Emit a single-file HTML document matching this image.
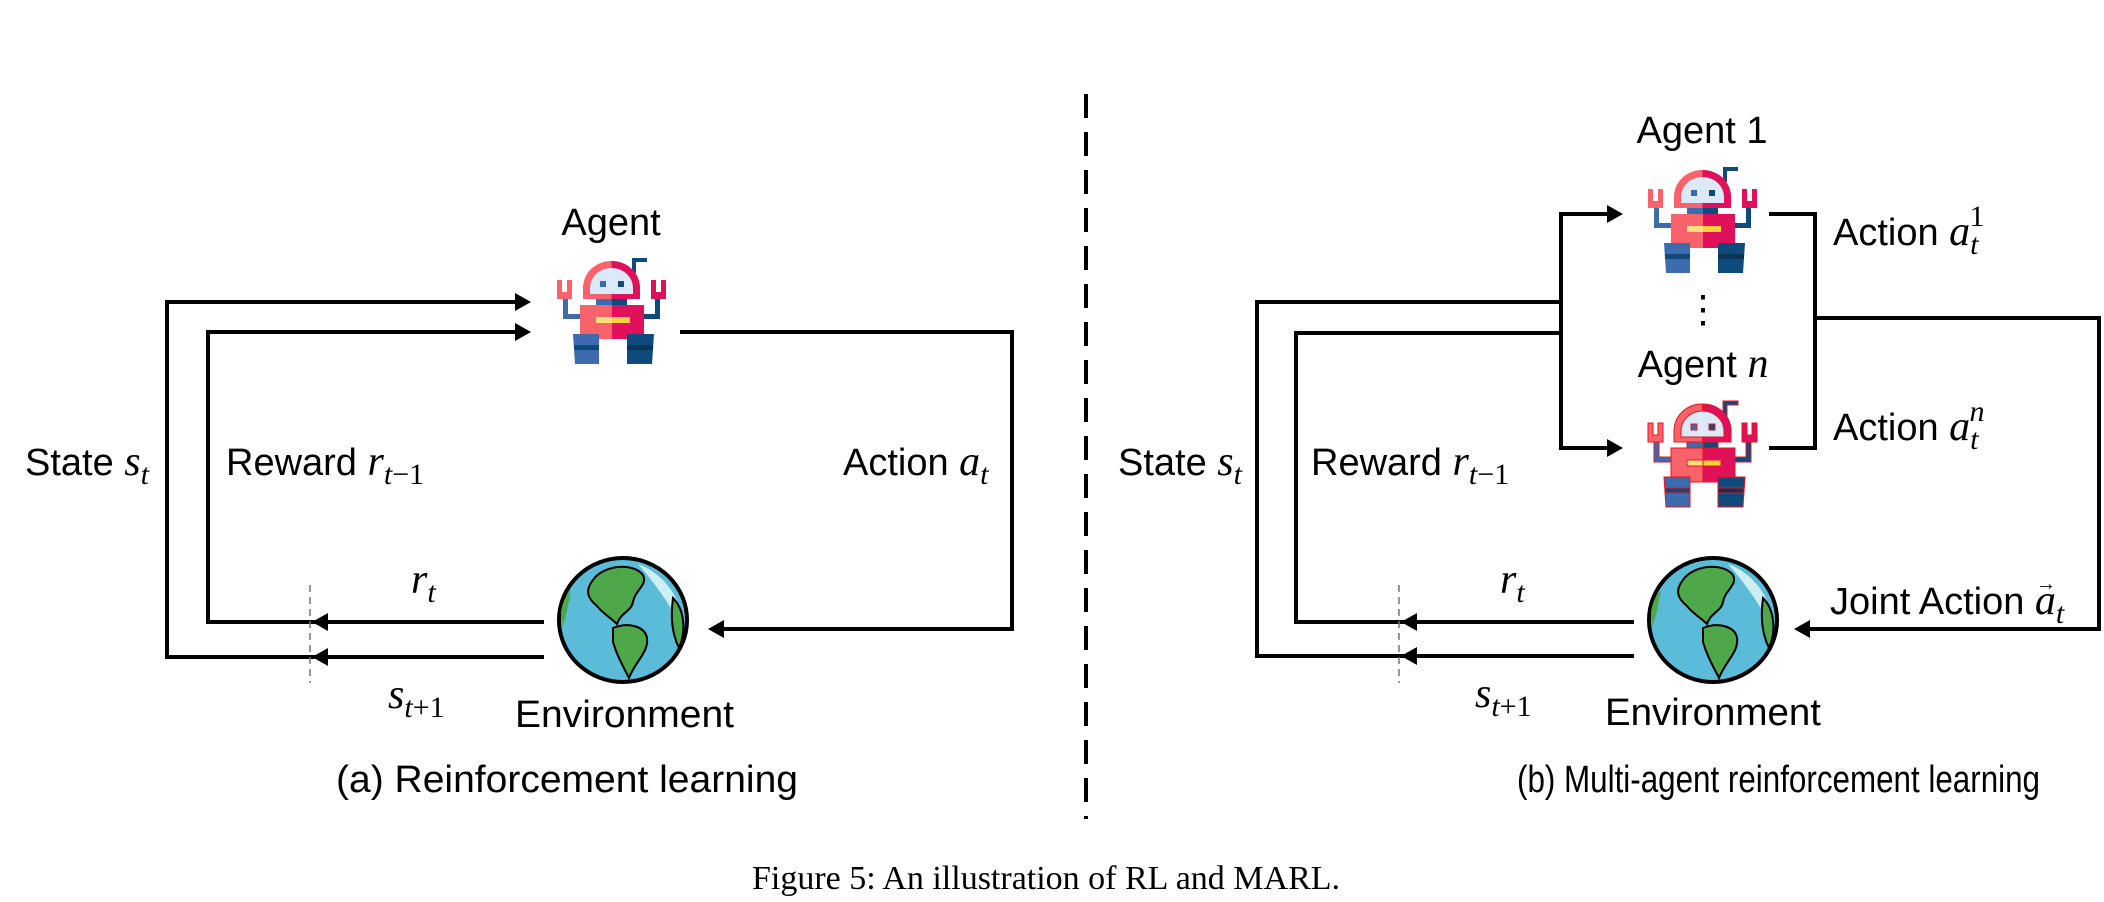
<!DOCTYPE html>
<html><head><meta charset="utf-8"><style>
html,body{margin:0;padding:0;background:#fff;}
svg{display:block;}
.s{font-family:"Liberation Sans",sans-serif;font-size:38px;fill:#000;}
.m{font-family:"Liberation Serif",serif;font-style:italic;font-size:42px;}
.b{font-family:"Liberation Serif",serif;font-style:italic;font-size:30px;}
.n{font-family:"Liberation Serif",serif;font-size:30px;}
</style></head><body>
<svg width="2104" height="902" viewBox="0 0 2104 902" xmlns="http://www.w3.org/2000/svg">
<defs>
<g id="robot">
  <path d="M0 22h5v12h5v-12h5v19h-15z" fill="#f8636b"/>
  <path d="M94 22h5v12h5v-12h5v19h-15z" fill="#e0115a"/>
  <path d="M6 41h5v15h13v5h-18z" fill="#3d6cae"/>
  <path d="M98 41h5v20h-18v-5h13z" fill="#0f4a7d"/>
  <path d="M75 15v-15h15v4h-11v11z" fill="#0f4a7d"/>
  <path d="M26 41v-12a28 27 0 0 1 28.5-26v38z" fill="#f8636b"/>
  <path d="M54.5 41v-38a28 27 0 0 1 28.5 26v12z" fill="#e0115a"/>
  <path d="M33 36v-6a21.5 20 0 0 1 43 0v6z" fill="#dbe9f8"/>
  <rect x="43" y="23" width="6" height="6" fill="#3d6cae"/>
  <rect x="61" y="23" width="6" height="6" fill="#0f4a7d"/>
  <rect x="39" y="41" width="16" height="6" fill="#3d6cae"/>
  <rect x="55" y="41" width="15" height="6" fill="#0f4a7d"/>
  <rect x="23" y="47" width="32" height="34" fill="#f8636b"/>
  <rect x="55" y="47" width="32" height="34" fill="#e0115a"/>
  <rect x="39" y="59" width="16" height="6" fill="#ffe07a"/>
  <rect x="55" y="59" width="18" height="6" fill="#fbd13b"/>
  <path d="M16 76h26v30h-24z" fill="#3d6cae"/>
  <rect x="17" y="87" width="25" height="5" fill="#0f4a7d"/>
  <path d="M70 76h27l-2 30h-25z" fill="#0f4a7d"/>
  <rect x="70" y="87" width="26" height="5" fill="#0b3556"/>
</g>
<g id="globe">
  <ellipse cx="0" cy="0" rx="64" ry="62" fill="#5bbcd9" stroke="#000" stroke-width="4"/>
  <path d="M15 -56 C42 -46 60 -20 60 8 C50 -8 38 -30 15 -56z" fill="#cdeef3"/>
  <path d="M-30 -40 C-20 -55 10 -58 20 -45 C25 -35 12 -30 10 -18 C8 -8 -2 -8 -6 4 C-12 -2 -22 -8 -26 -14 C-36 -22 -38 -30 -30 -40z" fill="#4ea84a" stroke="#000" stroke-width="2"/>
  <path d="M-10 8 C5 2 22 6 24 18 C26 32 12 42 6 58 C0 46 -6 36 -10 22z" fill="#4ea84a" stroke="#000" stroke-width="2"/>
  <path d="M50 -22 C62 -10 63 12 56 28 C50 16 47 0 50 -22z" fill="#4ea84a" stroke="#000" stroke-width="2"/>
  <path d="M-62 -8 C-60 -20 -56 -26 -52 -30 C-55 -15 -57 0 -61 6z" fill="#4ea84a"/>
</g>
<g id="arrR"><polygon points="0,0 -16,-9 -16,9" fill="#000"/></g>
<g id="arrL"><polygon points="0,0 16,-9 16,9" fill="#000"/></g>
</defs>

<g fill="none" stroke="#000" stroke-width="4" stroke-linejoin="miter">
  <path d="M544 657H167V302H518"/>
  <path d="M544 622H208V332H518"/>
  <path d="M680 332H1012V629H722"/>
  <path d="M1634 656H1257V302H1561"/>
  <path d="M1634 622H1296V333H1561"/>
  <path d="M1610 214H1561V448H1610"/>
  <path d="M1769 214H1815V448H1769"/>
  <path d="M1815 318H2099V629H1808"/>
  <path d="M1086 94V819" stroke-dasharray="24 14"/>
</g>
<g fill="none" stroke="#777" stroke-width="1.5" stroke-dasharray="7 5">
  <path d="M310 585V683"/>
  <path d="M1399 585V683"/>
</g>
<use href="#arrR" x="531" y="302"/>
<use href="#arrR" x="531" y="332"/>
<use href="#arrL" x="708" y="629"/>
<use href="#arrL" x="312" y="622"/>
<use href="#arrL" x="312" y="657"/>
<use href="#arrR" x="1623" y="214"/>
<use href="#arrR" x="1623" y="448"/>
<use href="#arrL" x="1794" y="629"/>
<use href="#arrL" x="1401" y="622"/>
<use href="#arrL" x="1401" y="656"/>

<use href="#robot" x="557" y="258"/>
<use href="#robot" x="1648" y="167"/>
<g stroke="#e8141c" stroke-width="1"><use href="#robot" x="1648" y="401"/></g>
<use href="#globe" x="623" y="620"/>
<use href="#globe" x="1713" y="620"/>

<text class="s" x="611" y="235" text-anchor="middle">Agent</text>
<text class="s" x="25" y="475">State <tspan class="m">s</tspan><tspan class="b" dy="9">t</tspan></text>
<text class="s" x="226" y="475">Reward <tspan class="m">r</tspan><tspan class="b" dy="9">t</tspan><tspan class="n">−1</tspan></text>
<text class="s" x="843" y="475">Action <tspan class="m">a</tspan><tspan class="b" dy="9">t</tspan></text>
<text class="s" x="411" y="593"><tspan class="m">r</tspan><tspan class="b" dy="9">t</tspan></text>
<text class="s" x="388" y="708"><tspan class="m">s</tspan><tspan class="b" dy="9">t</tspan><tspan class="n">+1</tspan></text>
<text class="s" x="515" y="727" textLength="219" lengthAdjust="spacingAndGlyphs">Environment</text>
<text class="s" x="336" y="792" textLength="462" lengthAdjust="spacingAndGlyphs">(a) Reinforcement learning</text>

<text class="s" x="1702" y="143" text-anchor="middle">Agent 1</text>
<text class="s" x="1703" y="377" text-anchor="middle">Agent <tspan class="m">n</tspan></text>
<text class="s" x="1703" y="322" text-anchor="middle" font-size="30">⋮</text>
<text class="s" x="1833" y="245">Action <tspan class="m">a</tspan><tspan class="b" dy="9">t</tspan><tspan class="n" dx="-9" dy="-28">1</tspan></text>
<text class="s" x="1833" y="440">Action <tspan class="m">a</tspan><tspan class="b" dy="9">t</tspan><tspan class="b" dx="-9" dy="-28">n</tspan></text>
<text class="s" x="1830" y="614">Joint Action <tspan class="m">a</tspan><tspan class="b" dy="9">t</tspan></text>
<text x="2036" y="590" font-family="Liberation Sans, sans-serif" font-size="20">→</text>
<text class="s" x="1118" y="475">State <tspan class="m">s</tspan><tspan class="b" dy="9">t</tspan></text>
<text class="s" x="1311" y="475">Reward <tspan class="m">r</tspan><tspan class="b" dy="9">t</tspan><tspan class="n">−1</tspan></text>
<text class="s" x="1500" y="593"><tspan class="m">r</tspan><tspan class="b" dy="9">t</tspan></text>
<text class="s" x="1475" y="707"><tspan class="m">s</tspan><tspan class="b" dy="9">t</tspan><tspan class="n">+1</tspan></text>
<text class="s" x="1605" y="725" textLength="216" lengthAdjust="spacingAndGlyphs">Environment</text>
<text class="s" x="1517" y="792" textLength="523" lengthAdjust="spacingAndGlyphs">(b) Multi-agent reinforcement learning</text>

<text x="1046" y="889" text-anchor="middle" font-family="Liberation Serif, serif" font-size="34" fill="#000">Figure 5: An illustration of RL and MARL.</text>
</svg>
</body></html>
